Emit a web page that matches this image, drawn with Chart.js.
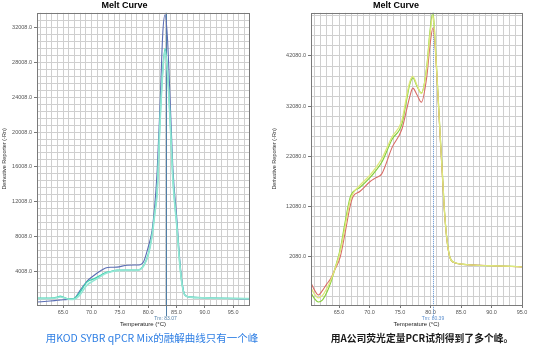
<!DOCTYPE html>
<html>
<head>
<meta charset="utf-8">
<script src="https://cdn.jsdelivr.net/npm/chart.js@4.4.0/dist/chart.umd.min.js"></script>
<style>
body { margin: 0; background: #fff; width: 543px; height: 358px; overflow: hidden; position: relative; }
.box { position: absolute; top: 0; }
.caption { position: absolute; top: 330px; font-family: "Noto Sans CJK SC"; font-size: 10.5px; white-space: nowrap; transform: translateX(-50%); }
</style>
</head>
<body>
<div class="box" style="left:0"><canvas id="meltKod" width="270" height="332"></canvas></div>
<div class="box" style="left:270px"><canvas id="meltA" width="273" height="332"></canvas></div>
<div class="caption" style="left:152px;color:#2f7fe4">用KOD SYBR qPCR Mix的融解曲线只有一个峰</div>
<div class="caption" style="left:422px;top:331px;color:#1a1a1a;font-size:9.8px;font-weight:bold">用A公司荧光定量PCR试剂得到了多个峰。</div>
<script>
// left chart: KOD SYBR qPCR Mix
const kodTemps = [60.4, 62.7, 64.0, 64.5, 65.0, 66.2, 67.1, 68.0, 69.2, 70.5, 71.5, 72.5, 73.5, 74.5, 76.3, 78.0, 78.6, 79.2, 80.0, 80.7, 81.2, 81.6, 82.1, 82.6, 83.0, 83.4, 83.9, 84.4, 85.1, 85.6, 86.0, 86.5, 87.4, 90.0, 97.8];
const kodBlue = [465, 580, 660, 690, 720, 780, 950, 1800, 2850, 3550, 4010, 4380, 4465, 4480, 4700, 4720, 4750, 5100, 6750, 8690, 11780, 15550, 23000, 31500, 33500, 31000, 23500, 15550, 9800, 5200, 2700, 1265, 1040, 950, 820];
const kodTeal = [920, 920, 1035, 1150, 1035, 810, 920, 1610, 2750, 3150, 3500, 3850, 4000, 4120, 4120, 4120, 4240, 4650, 5900, 8200, 10900, 13270, 21270, 27300, 29600, 27300, 21270, 14410, 9000, 4800, 2500, 1265, 1040, 950, 860];
const kodTealLight = [850, 870, 960, 1050, 980, 760, 820, 1300, 2400, 2950, 3350, 3750, 3950, 4080, 4100, 4100, 4200, 4600, 5800, 8000, 10700, 13000, 21000, 27000, 29300, 27000, 21000, 14200, 8900, 4700, 2450, 1250, 1030, 940, 850];
const kodTm = 83.07;
const kodYLabels = [4008, 8008, 12008, 16008, 20008, 24008, 28008, 32008];
const kodXLabels = [65, 70, 75, 80, 85, 90, 95];

// right chart: company A reagent
const aTemps = [60.4, 61.0, 61.6, 62.3, 63.0, 63.5, 64.3, 65.2, 66.0, 66.8, 67.3, 68.4, 70.1, 71.0, 72.0, 73.7, 75.3, 76.1, 76.6, 77.1, 77.8, 78.5, 79.4, 79.9, 80.4, 80.8, 81.2, 81.6, 82.0, 82.3, 82.7, 83.2, 84.0, 86.5, 90.0, 95.0];
const aRed = [-3120, -4600, -5520, -4600, -3300, -2520, -520, 2080, 6880, 12080, 14080, 15080, 17080, 17800, 18600, 23880, 27480, 31500, 34000, 35680, 34300, 32880, 38080, 44080, 47680, 43000, 34500, 25500, 17000, 10800, 5300, 1880, 880, 480, 300, 80];
const aYellow = [-4120, -5400, -6120, -5600, -4200, -3000, -450, 3200, 8200, 13200, 14700, 16300, 18400, 19800, 21600, 26000, 29200, 34200, 36900, 38000, 36200, 34600, 39800, 46200, 50200, 43800, 34800, 25800, 17300, 10900, 5400, 1900, 900, 490, 300, 90];
const aGreen = [-5120, -6300, -6920, -6500, -5000, -3520, -400, 3600, 9000, 13800, 15000, 15900, 17900, 19200, 20900, 25500, 28500, 33500, 36500, 37700, 36000, 34700, 40100, 46900, 50800, 44000, 35000, 26000, 17500, 11000, 5500, 1900, 900, 500, 300, 100];
const aTm = 80.39;
const aYLabels = [2080, 12080, 22080, 32080, 42080];
const aXLabels = [65, 70, 75, 80, 85, 90, 95];

Chart.defaults.font.family = "'Liberation Sans', Arial";
Chart.defaults.font.size = 5.5;
Chart.defaults.color = '#555';

function toPoints(temps, values) {
    return temps.map(function (t, i) { return { x: t, y: values[i] }; });
}

function gridValues(first, step, min, max) {
    var out = [];
    for (var v = first; v <= max; v += step) {
        if (v >= min) out.push(v);
    }
    return out;
}

function line(label, points, color, width) {
    return {
        label: label,
        data: points,
        borderColor: color,
        backgroundColor: 'transparent',
        borderWidth: width || 1.2,
        pointRadius: 0,
        cubicInterpolationMode: 'monotone',
        fill: false
    };
}

// plot frame + Tm marker
const meltFrame = {
    id: 'meltFrame',
    beforeDatasetsDraw: function (chart, args, opts) {
        const ctx = chart.ctx, a = chart.chartArea;
        const x = Math.round(chart.scales.x.getPixelForValue(opts.tm)) + 0.5;
        ctx.save();
        ctx.strokeStyle = opts.color;
        ctx.lineWidth = 1;
        ctx.setLineDash(opts.dash);
        ctx.beginPath();
        ctx.moveTo(x, a.top);
        ctx.lineTo(x, a.bottom + 11);
        ctx.stroke();
        ctx.restore();
    },
    afterDatasetsDraw: function (chart, args, opts) {
        const ctx = chart.ctx, a = chart.chartArea;
        const x = chart.scales.x.getPixelForValue(opts.tm);
        ctx.save();
        ctx.strokeStyle = '#7a7a7a';
        ctx.lineWidth = 1;
        ctx.strokeRect(Math.round(a.left) + 0.5, Math.round(a.top) + 0.5, Math.round(a.right - a.left), Math.round(a.bottom - a.top));
        ctx.fillStyle = opts.color;
        ctx.font = "5px 'Liberation Sans', Arial";
        ctx.textAlign = 'center';
        ctx.textBaseline = 'middle';
        ctx.fillText('Tm: ' + opts.tm.toFixed(2), x, a.bottom + 14);
        ctx.restore();
    }
};

function makeChart(canvas, datasets, cfg) {
    const yMinor = gridValues(cfg.yFirst, cfg.yStep, cfg.yMin, cfg.yMax);
    const xMinor = gridValues(cfg.xFirst, 1, cfg.xMin, cfg.xMax);
    return new Chart(canvas, {
        type: 'line',
        data: { datasets: datasets },
        plugins: [meltFrame],
        options: {
            responsive: false,
            animation: false,
            devicePixelRatio: 1,
            layout: { padding: { left: 0, right: 21, top: 0, bottom: 0 } },
            plugins: {
                legend: { display: false },
                tooltip: { enabled: false },
                title: {
                    display: true,
                    text: 'Melt Curve',
                    color: '#000',
                    font: { size: 9, weight: 'bold' },
                    padding: { top: 0, bottom: 2 }
                },
                meltFrame: { tm: cfg.tm, color: cfg.tmColor, dash: cfg.tmDash }
            },
            scales: {
                x: {
                    type: 'linear',
                    min: cfg.xMin,
                    max: cfg.xMax,
                    afterBuildTicks: function (axis) {
                        axis.ticks = xMinor.map(function (v) { return { value: v }; });
                    },
                    afterFit: function (axis) { axis.height = 27; },
                    ticks: {
                        autoSkip: false,
                        maxRotation: 0,
                        padding: 1,
                        callback: function (v) { return cfg.xLabels.indexOf(v) >= 0 ? v.toFixed(1) : ''; }
                    },
                    grid: {
                        color: '#cfcfcf',
                        tickLength: 3,
                        tickColor: function (c) { return c.tick && cfg.xLabels.indexOf(c.tick.value) >= 0 ? '#777' : 'transparent'; }
                    },
                    border: { display: false },
                    title: {
                        display: true,
                        text: 'Temperature (°C)',
                        color: '#222',
                        font: { size: 6 },
                        padding: { top: 0, bottom: 4 }
                    }
                },
                y: {
                    type: 'linear',
                    min: cfg.yMin,
                    max: cfg.yMax,
                    afterBuildTicks: function (axis) {
                        axis.ticks = yMinor.map(function (v) { return { value: v }; });
                    },
                    afterFit: function (axis) { axis.width = cfg.yWidth; },
                    ticks: {
                        autoSkip: false,
                        padding: 2,
                        callback: function (v) { return cfg.yLabels.indexOf(v) >= 0 ? v.toFixed(1) : ''; }
                    },
                    grid: {
                        color: '#cfcfcf',
                        tickLength: 3,
                        tickColor: function (c) { return c.tick && cfg.yLabels.indexOf(c.tick.value) >= 0 ? '#777' : 'transparent'; }
                    },
                    border: { display: false },
                    title: {
                        display: true,
                        text: 'Derivative Reporter (-Rn)',
                        color: '#333',
                        font: { size: 5.5 },
                        padding: { top: 1, bottom: 0 }
                    }
                }
            }
        }
    });
}

makeChart(document.getElementById('meltKod'), [
    line('KOD 1', toPoints(kodTemps, kodTealLight), '#93e6d4', 1.6),
    line('KOD 2', toPoints(kodTemps, kodTeal), '#3fd2b0', 1.3),
    line('KOD 3', toPoints(kodTemps, kodBlue), '#5a6db4', 1.1)
], {
    xMin: 60.4, xMax: 97.8, xFirst: 61,
    yMin: 122, yMax: 33722, yFirst: 808, yStep: 800,
    yWidth: 37,
    xLabels: kodXLabels, yLabels: kodYLabels,
    tm: kodTm, tmColor: '#4f7ea6', tmDash: []
});

makeChart(document.getElementById('meltA'), [
    line('A 1', toPoints(aTemps, aYellow), '#dfe87a', 1.3),
    line('A 2', toPoints(aTemps, aRed), '#d86c66', 1.1),
    line('A 3', toPoints(aTemps, aGreen), '#86cf3c', 1.2)
], {
    xMin: 60.4, xMax: 95, xFirst: 61,
    yMin: -7520, yMax: 50680, yFirst: -5920, yStep: 2000,
    yWidth: 41,
    xLabels: aXLabels, yLabels: aYLabels,
    tm: aTm, tmColor: '#5b8fcf', tmDash: [1, 1]
});
</script>
</body>
</html>
